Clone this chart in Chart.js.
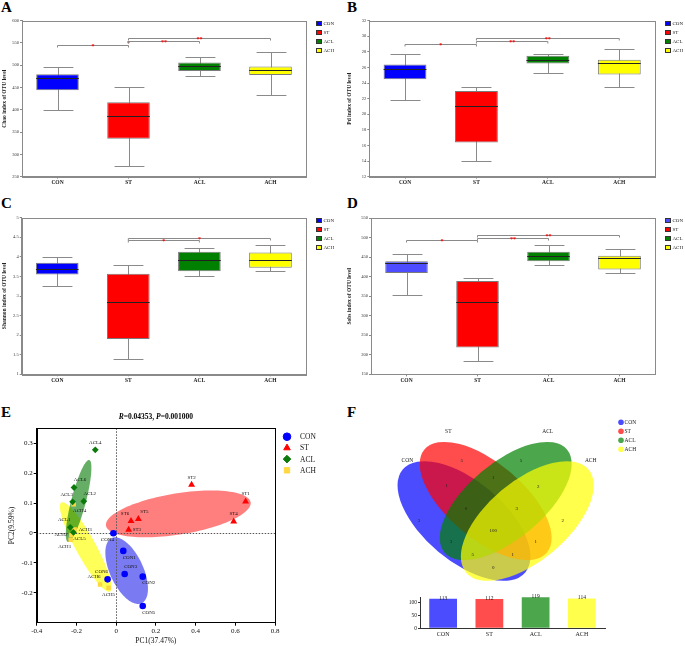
<!DOCTYPE html>
<html>
<head>
<meta charset="utf-8">
<script src="https://cdn.jsdelivr.net/npm/chart.js@4/dist/chart.umd.min.js"></script>
<style>
  body { margin: 0; background: #fff; width: 685px; height: 646px; position: relative; overflow: hidden; }
  canvas { position: absolute; }
  .letra { position: absolute; font: bold 15px "Liberation Serif", serif; line-height: 15px; }
</style>
</head>
<body>
<div class="letra" style="left:1px;top:0px">A</div>
<div class="letra" style="left:347px;top:0px">B</div>
<div class="letra" style="left:1px;top:196px">C</div>
<div class="letra" style="left:347px;top:196px">D</div>
<div class="letra" style="left:1px;top:405px">E</div>
<div class="letra" style="left:347px;top:405px">F</div>

<canvas id="grafA" width="345" height="183" style="left:0px;top:12px"></canvas>
<canvas id="grafB" width="340" height="183" style="left:345px;top:12px"></canvas>
<canvas id="grafC" width="345" height="183" style="left:0px;top:209px"></canvas>
<canvas id="grafD" width="340" height="183" style="left:345px;top:209px"></canvas>
<canvas id="grafE" width="345" height="243" style="left:0px;top:403px"></canvas>
<canvas id="grafVenn" width="345" height="195" style="left:340px;top:395px"></canvas>
<canvas id="grafBarras" width="345" height="56" style="left:340px;top:590px"></canvas>

<script>
const fuente = '"Liberation Serif", "Times New Roman", serif';

// grupos
const grupos = ['CON', 'ST', 'ACL', 'ACH'];

// Chao (min, q1, mediana, q3, max)
const chaoMin = [400, 274, 475, 433];
const chaoQ1 = [444, 335, 487, 478];
const chaoMed = [471, 387, 499, 490];
const chaoQ3 = [480, 417, 506, 497];
const chaoMax = [497, 451, 518, 530];
const chaoSig = [['CON', 'ST', 545, '*'], ['ST', 'ST', 552, '*'], ['ST', 'ACL', 555, '**'], ['ST', 'ACH', 561, '**']];

// Pd
const pdMin = [21.8, 14.0, 25.3, 23.5];
const pdQ1 = [24.5, 16.4, 26.5, 25.1];
const pdMed = [25.8, 21.1, 26.9, 26.6];
const pdQ3 = [26.4, 23.0, 27.5, 27.0];
const pdMax = [27.7, 23.5, 27.7, 28.4];
const pdSig = [['CON', 'ST', 28.95, '*'], ['ST', 'ACL', 29.35, '**'], ['ST', 'ACH', 29.75, '**']];

// Shannon
const shanMin = [3.26, 1.38, 3.51, 3.65];
const shanQ1 = [3.55, 1.90, 3.63, 3.72];
const shanMed = [3.68, 2.84, 3.91, 3.91];
const shanQ3 = [3.85, 3.57, 4.13, 4.11];
const shanMax = [4.0, 3.79, 4.22, 4.31];
const shanSig = [['ST', 'ACL', 4.43, '*'], ['ST', 'ACH', 4.47, '*']];

// Sobs
const sobsMin = [353, 183, 430, 409];
const sobsQ1 = [410, 219, 440, 419];
const sobsMed = [435, 336, 453, 448];
const sobsQ3 = [440, 389, 464, 454];
const sobsMax = [459, 396, 482, 470];
const sobsSig = [['CON', 'ST', 495, '*'], ['ST', 'ACL', 500.5, '**'], ['ST', 'ACH', 506.5, '**']];

// PCoA
const conX = [0.036, 0.134, 0.043, -0.014, 0.134, -0.043];
const conY = [-0.060, -0.146, -0.137, -0.001, -0.244, -0.155];
const stX = [0.652, 0.380, 0.063, 0.592, 0.112, 0.075];
const stY = [0.105, 0.161, 0.011, 0.038, 0.047, 0.040];
const aclX = [-0.231, -0.163, -0.219, -0.105, -0.215, -0.212];
const aclY = [0.019, 0.106, 0.104, 0.278, 0.002, 0.152];
const achX = [-0.229, -0.225, -0.209, -0.214, -0.038, -0.081];
const achY = [-0.023, -0.007, 0.012, 0.096, -0.183, -0.172];
// donde va la etiqueta de cada punto
const conPos = ['br', 'br', 'ar', 'bl', 'br', 'al'];
const stPos = ['a', 'a', 'r', 'a', 'ar', 'al'];
const aclPos = ['al', 'ar', 'al', 'a', 'br', 'ar'];
const achPos = ['bl', 'l', 'r', 'br', 'b', 'al'];

// Venn
const vennConteos = [3, 5, 5, 2, 1, 1, 2, 0, 3, 100, 3, 1, 5, 1, 0];
const vennX = [79, 121.7, 181, 222.7, 106.7, 153.3, 198.3, 126, 176.7, 153.3, 111, 195.7, 132.7, 172.7, 153.3];
const vennY = [126, 66, 66, 126, 91, 82.7, 91.7, 113.3, 113.3, 136, 146.7, 146.7, 159.3, 159.3, 172.3];
const totalOTU = [113, 112, 119, 114];

const coloresCaja = ['#0000ff', '#ff0000', '#008000', '#ffff00'];
const coloresCajaD = ['#4d4dff', '#ff0000', '#008000', '#ffff00'];
const coloresVenn = ['rgba(0,0,255,0.7)', 'rgba(255,0,0,0.7)', 'rgba(0,128,0,0.7)', 'rgba(255,255,0,0.7)'];

const numero = v => String(+Number(v).toFixed(2));

//plugin de cajas: bigotes, medianas, marco, significancia y leyenda

const pluginCajas = {
    id: 'cajas',
    beforeDatasetsDraw(chart, args, opts) {
        const ctx = chart.ctx;
        const y = chart.scales.y;
        const meta = chart.getDatasetMeta(0);
        ctx.save();
        ctx.strokeStyle = '#8a8a8a';
        ctx.lineWidth = 1;
        meta.data.forEach((barra, i) => {
            const x = Math.round(barra.x) + 0.5;
            const w = barra.width * 0.7;
            const yMin = Math.round(y.getPixelForValue(opts.min[i])) + 0.5;
            const yMax = Math.round(y.getPixelForValue(opts.max[i])) + 0.5;
            ctx.beginPath();
            ctx.moveTo(x, yMin); ctx.lineTo(x, yMax);
            ctx.moveTo(x - w / 2, yMin); ctx.lineTo(x + w / 2, yMin);
            ctx.moveTo(x - w / 2, yMax); ctx.lineTo(x + w / 2, yMax);
            ctx.stroke();
        });
        ctx.restore();
    },
    afterDatasetsDraw(chart, args, opts) {
        const ctx = chart.ctx;
        const x = chart.scales.x;
        const y = chart.scales.y;
        const area = chart.chartArea;
        const meta = chart.getDatasetMeta(0);
        ctx.save();
        // medianas
        ctx.strokeStyle = '#222';
        ctx.lineWidth = 1;
        meta.data.forEach((barra, i) => {
            const ym = Math.round(y.getPixelForValue(opts.med[i])) + 0.5;
            ctx.beginPath();
            ctx.moveTo(barra.x - barra.width / 2, ym);
            ctx.lineTo(barra.x + barra.width / 2, ym);
            ctx.stroke();
        });
        // marco
        ctx.strokeStyle = '#8a8a8a';
        ctx.strokeRect(Math.round(area.left) + 0.5, Math.round(area.top) + 0.5, Math.round(area.right - area.left), Math.round(area.bottom - area.top));
        // significancia
        opts.sig.forEach(([a, b, valor, texto]) => {
            const xa = x.getPixelForValue(grupos.indexOf(a));
            const xb = x.getPixelForValue(grupos.indexOf(b));
            const yy = Math.round(y.getPixelForValue(valor)) + 0.5;
            if (xa !== xb) {
                ctx.strokeStyle = '#8a8a8a';
                ctx.beginPath();
                ctx.moveTo(xa, yy + 2); ctx.lineTo(xa, yy); ctx.lineTo(xb, yy); ctx.lineTo(xb, yy + 2);
                ctx.stroke();
            }
            ctx.fillStyle = '#ff0000';
            ctx.font = 'bold 6px ' + fuente;
            ctx.textAlign = 'center';
            ctx.textBaseline = 'middle';
            ctx.fillText(texto, (xa + xb) / 2, yy + 1);
        });
        // leyenda
        ctx.font = '5px ' + fuente;
        ctx.textAlign = 'left';
        ctx.textBaseline = 'middle';
        grupos.forEach((g, i) => {
            const lx = Math.round(area.right) + 10;
            const ly = Math.round(area.top) + i * 9;
            ctx.fillStyle = opts.colores[i];
            ctx.fillRect(lx, ly, 6, 5);
            ctx.strokeStyle = '#333';
            ctx.strokeRect(lx + 0.5, ly + 0.5, 5, 4);
            ctx.fillStyle = '#222';
            ctx.fillText(g, lx + 7.5, ly + 2.5);
        });
        ctx.restore();
    }
};

function crearCaja(idCanvas, titulo, minimo, maximo, paso, cMin, cQ1, cMed, cQ3, cMax, sig, colores, medidas) {
    return new Chart(document.getElementById(idCanvas), {
        type: 'bar',
        data: {
            labels: grupos,
            datasets: [{
                data: grupos.map((g, i) => [cQ1[i], cQ3[i]]),
                backgroundColor: colores,
                borderColor: '#7a7a7a',
                borderWidth: 1,
                borderSkipped: false,
                barPercentage: 0.6,
                categoryPercentage: 1
            }]
        },
        options: {
            responsive: false,
            animation: false,
            layout: { padding: { left: 1, top: medidas.arriba, right: medidas.derecha, bottom: 0 } },
            plugins: {
                legend: { display: false },
                tooltip: { enabled: false },
                cajas: { min: cMin, med: cMed, max: cMax, sig: sig, colores: colores }
            },
            scales: {
                x: {
                    grid: { drawOnChartArea: false, offset: false, tickLength: 2, color: '#8a8a8a' },
                    border: { color: '#8a8a8a' },
                    ticks: { font: { family: fuente, size: 5.5, weight: 'bold' }, color: '#222', padding: 1 },
                    afterFit: s => { s.height = medidas.abajo; }
                },
                y: {
                    min: minimo,
                    max: maximo,
                    ticks: { stepSize: paso, font: { family: fuente, size: 4.5 }, color: '#333', padding: 1, callback: numero },
                    grid: { drawOnChartArea: false, tickLength: 2, color: '#8a8a8a' },
                    border: { color: '#8a8a8a' },
                    title: { display: true, text: titulo, font: { family: fuente, size: 5.5, weight: 'bold' }, color: '#222', padding: 0 },
                    afterFit: s => { s.width = medidas.izq - 1; }
                }
            }
        },
        plugins: [pluginCajas]
    });
}

crearCaja('grafA', 'Chao index of OTU level', 250, 600, 50, chaoMin, chaoQ1, chaoMed, chaoQ3, chaoMax, chaoSig, coloresCaja,
    { izq: 22, arriba: 8.7, derecha: 39, abajo: 18.3 });
crearCaja('grafB', 'Pd index of OTU level', 12, 32, 2, pdMin, pdQ1, pdMed, pdQ3, pdMax, pdSig, coloresCaja,
    { izq: 24.3, arriba: 8.7, derecha: 30, abajo: 18.3 });
crearCaja('grafC', 'Shannon index of OTU level', 1, 5, 0.5, shanMin, shanQ1, shanMed, shanQ3, shanMax, shanSig, coloresCaja,
    { izq: 21.7, arriba: 8.7, derecha: 39, abajo: 17.7 });
crearCaja('grafD', 'Sobs index of OTU level', 150, 550, 50, sobsMin, sobsQ1, sobsMed, sobsQ3, sobsMax, sobsSig, coloresCajaD,
    { izq: 26, arriba: 9.3, derecha: 30, abajo: 17.7 });

//PCoA

const elipsesE = [
    { c: [0.053, -0.126], a: [0.0755, -0.109], b: [0.0762, 0.0233], color: 'rgba(0,0,230,0.52)' },
    { c: [0.313, 0.0637], a: [0.364, 0.039], b: [0.0166, -0.068], color: 'rgba(255,0,0,0.5)' },
    { c: [-0.189, 0.107], a: [0.0537, 0.137], b: [0.0357, -0.0061], color: 'rgba(0,120,0,0.6)' },
    { c: [-0.153, -0.0467], a: [0.1225, -0.149], b: [0.0441, 0.0159], color: 'rgba(255,255,0,0.65)' }
];

const pluginPCoA = {
    id: 'pcoa',
    beforeDatasetsDraw(chart) {
        const ctx = chart.ctx;
        const x = chart.scales.x;
        const y = chart.scales.y;
        const area = chart.chartArea;
        ctx.save();
        elipsesE.slice().reverse().forEach(e => {
            ctx.beginPath();
            for (let k = 0; k <= 120; k++) {
                const t = k / 120 * Math.PI * 2;
                const px = x.getPixelForValue(e.c[0] + Math.cos(t) * e.a[0] + Math.sin(t) * e.b[0]);
                const py = y.getPixelForValue(e.c[1] + Math.cos(t) * e.a[1] + Math.sin(t) * e.b[1]);
                if (k === 0) ctx.moveTo(px, py); else ctx.lineTo(px, py);
            }
            ctx.closePath();
            ctx.fillStyle = e.color;
            ctx.fill();
        });
        // lineas del cero
        ctx.strokeStyle = '#555';
        ctx.setLineDash([1.5, 1.5]);
        ctx.lineWidth = 1;
        const x0 = Math.round(x.getPixelForValue(0)) + 0.5;
        const y0 = Math.round(y.getPixelForValue(0)) + 0.5;
        ctx.beginPath();
        ctx.moveTo(x0, area.top); ctx.lineTo(x0, area.bottom);
        ctx.moveTo(area.left, y0); ctx.lineTo(area.right, y0);
        ctx.stroke();
        ctx.restore();
    },
    afterDatasetsDraw(chart) {
        const ctx = chart.ctx;
        const area = chart.chartArea;
        const posiciones = [conPos, stPos, aclPos, achPos];
        ctx.save();
        ctx.font = '5px ' + fuente;
        ctx.fillStyle = '#111';
        ctx.textBaseline = 'middle';
        ctx.textAlign = 'center';
        chart.data.datasets.forEach((ds, d) => {
            chart.getDatasetMeta(d).data.forEach((p, i) => {
                const texto = ds.label + (i + 1);
                const pos = posiciones[d][i];
                const ancho = ctx.measureText(texto).width;
                let dx = 0, dy = 0;
                if (pos.includes('a')) dy = -7.5;
                if (pos.includes('b')) dy = 6.5;
                if (pos === 'l') dx = -ancho / 2 - 4;
                else if (pos === 'r') dx = ancho / 2 + 4;
                else if (pos.includes('l')) dx = -6;
                else if (pos.includes('r')) dx = 6;
                ctx.fillText(texto, p.x + dx, p.y + dy);
            });
        });
        // marco
        ctx.strokeStyle = '#000';
        ctx.lineWidth = 1;
        ctx.strokeRect(Math.round(area.left) + 0.5, Math.round(area.top) + 0.5, Math.round(area.right - area.left), Math.round(area.bottom - area.top));
        // titulo
        const partes = [['R', 'italic bold'], ['=0.04353, ', 'bold'], ['P', 'italic bold'], ['=0.001000', 'bold']];
        ctx.fillStyle = '#000';
        ctx.textAlign = 'left';
        let total = 0;
        partes.forEach(([t, f]) => { ctx.font = f + ' 7.5px ' + fuente; total += ctx.measureText(t).width; });
        let tx = (area.left + area.right) / 2 - total / 2;
        partes.forEach(([t, f]) => {
            ctx.font = f + ' 7.5px ' + fuente;
            ctx.fillText(t, tx, 13.7);
            tx += ctx.measureText(t).width;
        });
        // leyenda
        ctx.font = '7.5px ' + fuente;
        chart.data.datasets.forEach((ds, d) => {
            const ly = 33.7 + d * 11.2;
            ctx.fillStyle = ds.backgroundColor;
            ctx.strokeStyle = ds.backgroundColor;
            Chart.helpers.drawPoint(ctx, { pointStyle: ds.pointStyle, radius: 3.8, rotation: 0, borderWidth: 1 }, 287, ly);
            ctx.fillStyle = '#111';
            ctx.fillText(ds.label, 300, ly + 0.5);
        });
        ctx.restore();
    }
};

new Chart(document.getElementById('grafE'), {
    type: 'scatter',
    data: {
        datasets: [
            { label: 'CON', data: conX.map((v, i) => ({ x: v, y: conY[i] })), pointStyle: 'circle', pointRadius: 3.3, backgroundColor: '#0000ff', borderColor: '#0000ff', borderWidth: 0 },
            { label: 'ST', data: stX.map((v, i) => ({ x: v, y: stY[i] })), pointStyle: 'triangle', pointRadius: 4, backgroundColor: '#ff0000', borderColor: '#ff0000', borderWidth: 0 },
            { label: 'ACL', data: aclX.map((v, i) => ({ x: v, y: aclY[i] })), pointStyle: 'rectRot', pointRadius: 3.4, backgroundColor: '#0b7a0b', borderColor: '#0b7a0b', borderWidth: 0 },
            { label: 'ACH', data: achX.map((v, i) => ({ x: v, y: achY[i] })), pointStyle: 'rect', pointRadius: 3.2, backgroundColor: '#ffd740', borderColor: '#ffd740', borderWidth: 0 }
        ]
    },
    options: {
        responsive: false,
        animation: false,
        layout: { padding: { left: 8, top: 25.3, right: 70, bottom: 0 } },
        plugins: { legend: { display: false }, tooltip: { enabled: false } },
        scales: {
            x: {
                min: -0.4, max: 0.8,
                ticks: { stepSize: 0.2, font: { family: fuente, size: 7 }, color: '#111', padding: 1, callback: numero },
                grid: { drawOnChartArea: false, tickLength: 3, color: '#000' },
                border: { color: '#000' },
                title: { display: true, text: 'PC1(37.47%)', font: { family: fuente, size: 7.5 }, color: '#111', padding: 0 },
                afterFit: s => { s.height = 23.3; }
            },
            y: {
                min: -0.3, max: 0.35,
                ticks: { stepSize: 0.1, includeBounds: false, font: { family: fuente, size: 7 }, color: '#111', padding: 1, callback: numero },
                grid: { drawOnChartArea: false, tickLength: 3, color: '#000' },
                border: { color: '#000' },
                title: { display: true, text: 'PC2(9.59%)', font: { family: fuente, size: 7.5 }, color: '#111', padding: 0 },
                afterFit: s => { s.width = 28.7; }
            }
        }
    },
    plugins: [pluginPCoA]
});

//Venn

const elipsesVenn = [
    { c: [124, 126], a: 80, b: 40, giro: 40 },
    { c: [145.7, 106], a: 80, b: 38, giro: 40 },
    { c: [165.7, 106], a: 80, b: 38, giro: -40 },
    { c: [187.3, 126], a: 80, b: 40, giro: -40 }
];
const nombresVenn = [[67.3, 66], [108.3, 36.7], [207.7, 36.7], [250.7, 66]];

const pluginVenn = {
    id: 'venn',
    beforeDatasetsDraw(chart) {
        const ctx = chart.ctx;
        const x = chart.scales.x;
        const y = chart.scales.y;
        const esc = x.getPixelForValue(1) - x.getPixelForValue(0);
        ctx.save();
        elipsesVenn.forEach((e, i) => {
            ctx.beginPath();
            ctx.ellipse(x.getPixelForValue(e.c[0]), y.getPixelForValue(e.c[1]), e.a * esc, e.b * esc, e.giro * Math.PI / 180, 0, Math.PI * 2);
            ctx.fillStyle = coloresVenn[i];
            ctx.fill();
        });
        ctx.restore();
    },
    afterDatasetsDraw(chart) {
        const ctx = chart.ctx;
        const x = chart.scales.x;
        const y = chart.scales.y;
        ctx.save();
        ctx.textAlign = 'center';
        ctx.textBaseline = 'middle';
        ctx.font = '5px ' + fuente;
        ctx.fillStyle = '#222';
        chart.getDatasetMeta(0).data.forEach((p, i) => {
            ctx.fillText(String(vennConteos[i]), p.x, p.y);
        });
        ctx.font = '5.5px ' + fuente;
        nombresVenn.forEach(([nx, ny], i) => {
            ctx.fillText(grupos[i], x.getPixelForValue(nx), y.getPixelForValue(ny));
        });
        // leyenda
        ctx.textAlign = 'left';
        grupos.forEach((g, i) => {
            const ly = 27.3 + i * 9;
            ctx.beginPath();
            ctx.arc(281, ly, 2.8, 0, Math.PI * 2);
            ctx.fillStyle = coloresVenn[i];
            ctx.fill();
            ctx.fillStyle = '#222';
            ctx.fillText(g, 284.5, ly + 0.3);
        });
        ctx.restore();
    }
};

new Chart(document.getElementById('grafVenn'), {
    type: 'scatter',
    data: {
        datasets: [{ data: vennX.map((v, i) => ({ x: v, y: vennY[i] })), pointRadius: 0 }]
    },
    options: {
        responsive: false,
        animation: false,
        layout: { padding: 0 },
        plugins: { legend: { display: false }, tooltip: { enabled: false } },
        scales: {
            x: { display: false, min: 0, max: 345 },
            y: { display: false, min: 0, max: 195, reverse: true }
        }
    },
    plugins: [pluginVenn]
});

//barras de totales

const pluginValores = {
    id: 'valores',
    afterDatasetsDraw(chart) {
        const ctx = chart.ctx;
        ctx.save();
        ctx.font = '5.5px ' + fuente;
        ctx.fillStyle = '#222';
        ctx.textAlign = 'center';
        ctx.textBaseline = 'bottom';
        chart.getDatasetMeta(0).data.forEach((b, i) => {
            ctx.fillText(String(totalOTU[i]), b.x, b.y + 2);
        });
        ctx.restore();
    }
};

new Chart(document.getElementById('grafBarras'), {
    type: 'bar',
    data: {
        labels: grupos,
        datasets: [{ data: totalOTU, backgroundColor: coloresVenn, barPercentage: 0.6, categoryPercentage: 1 }]
    },
    options: {
        responsive: false,
        animation: false,
        layout: { padding: { left: 0, top: 7, right: 80, bottom: 0 } },
        plugins: { legend: { display: false }, tooltip: { enabled: false } },
        scales: {
            x: {
                grid: { display: false, drawTicks: false, tickLength: 0 },
                border: { color: '#333' },
                ticks: { font: { family: fuente, size: 6 }, color: '#222', padding: 3 },
                afterFit: s => { s.height = 17.7; }
            },
            y: {
                min: 0, max: 120,
                ticks: { stepSize: 50, includeBounds: false, font: { family: fuente, size: 5.5 }, color: '#222', padding: 1 },
                grid: { drawOnChartArea: false, tickLength: 2, color: '#333' },
                border: { color: '#333' },
                afterFit: s => { s.width = 80; }
            }
        }
    },
    plugins: [pluginValores]
});
</script>
</body>
</html>
